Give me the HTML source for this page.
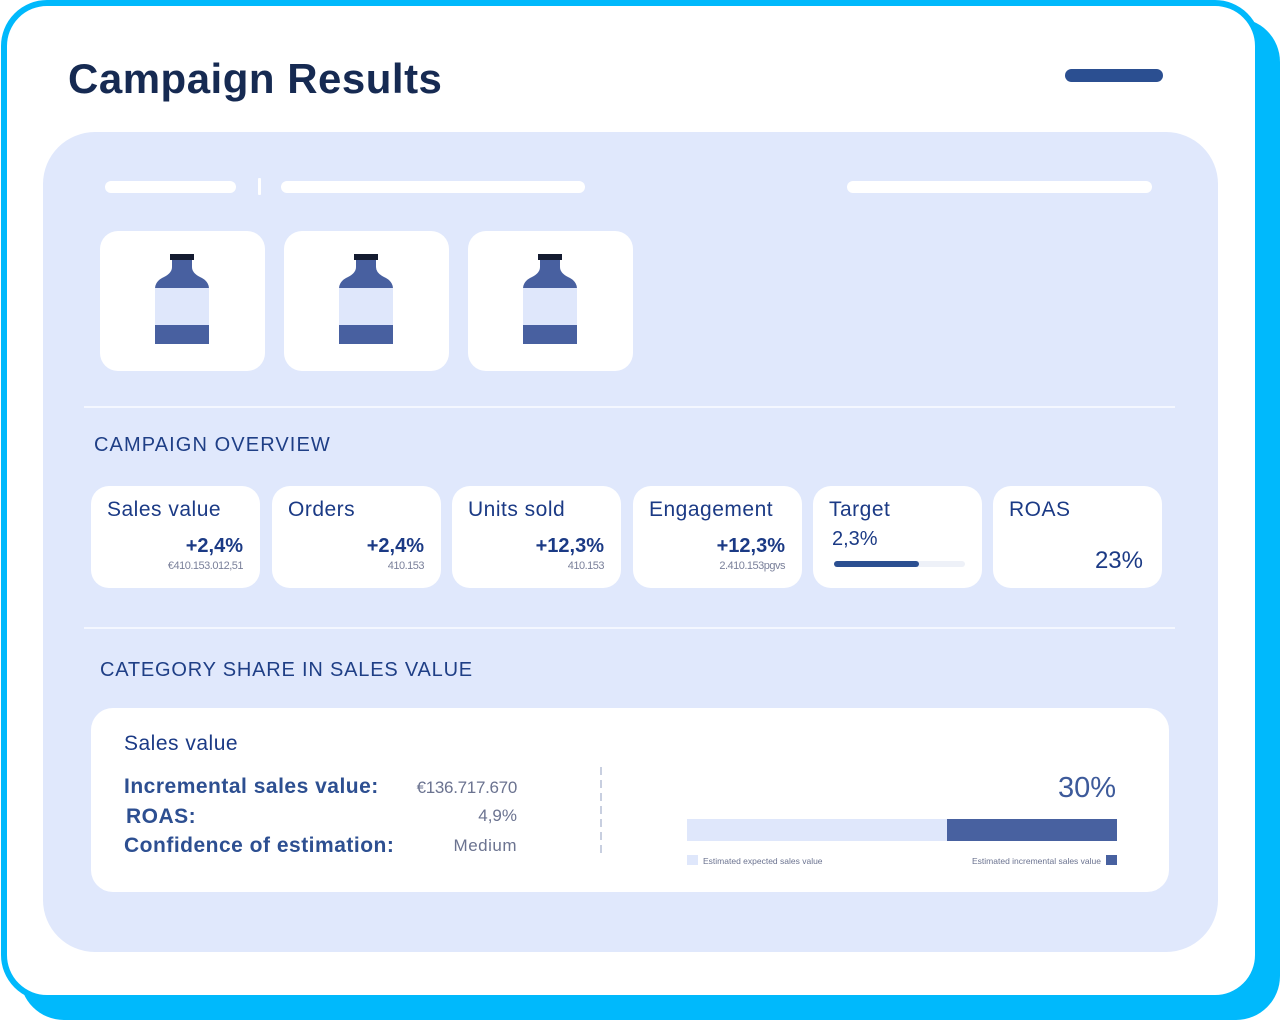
<!DOCTYPE html>
<html>
<head>
<meta charset="utf-8">
<style>
  html,body{margin:0;padding:0;}
  body{width:1280px;height:1020px;position:relative;overflow:hidden;background:#ffffff;font-family:"Liberation Sans",Arial,sans-serif;}
  .abs{position:absolute;}
  .shadow{left:20px;top:18px;width:1260px;height:1002px;border-radius:44px;background:#00b9fc;}
  .card{left:1px;top:0px;width:1248px;height:989px;border:6px solid #00b9fc;border-radius:46px;background:#fff;}
  .title{left:68px;top:54px;font-size:42px;font-weight:bold;color:#162a52;letter-spacing:0.5px;line-height:50px;white-space:nowrap;}
  .pill{left:1065px;top:69px;width:98px;height:13px;border-radius:7px;background:#2b4f91;}
  .panel{left:43px;top:132px;width:1175px;height:820px;border-radius:52px;background:#e0e8fc;}
  .wp{background:#fff;height:12px;border-radius:6px;top:181px;}
  .prod{top:231px;width:165px;height:140px;border-radius:18px;background:#fff;}
  .divider{left:84px;width:1091px;height:2px;background:#f4f7ff;}
  .sect{font-size:20px;color:#1f3f86;letter-spacing:1.1px;line-height:24px;white-space:nowrap;}
  .kpi{top:486px;width:169px;height:102px;border-radius:18px;background:#fff;}
  .kl{position:absolute;left:16px;top:12px;font-size:21px;color:#1b3a85;letter-spacing:0.5px;line-height:24px;white-space:nowrap;}
  .kv{position:absolute;right:17px;top:48px;font-size:20px;font-weight:bold;color:#1b3a85;line-height:24px;white-space:nowrap;}
  .ks{position:absolute;right:17px;top:74px;font-size:11px;color:#7a809a;line-height:12px;letter-spacing:-0.5px;white-space:nowrap;}
  .big{left:91px;top:708px;width:1078px;height:184px;border-radius:22px;background:#fff;}
  .rl{font-size:21px;font-weight:bold;color:#2d4f91;letter-spacing:0.5px;line-height:26px;white-space:nowrap;}
  .rv{font-size:17px;color:#6b7390;line-height:22px;white-space:nowrap;text-align:right;width:200px;}
  .leg{font-size:8.5px;color:#6b7390;line-height:10px;white-space:nowrap;}
</style>
</head>
<body>
  <div class="abs shadow"></div>
  <div class="abs card"></div>
  <div class="abs title">Campaign Results</div>
  <div class="abs pill"></div>

  <div class="abs panel"></div>

  <div class="abs wp" style="left:105px;width:131px;"></div>
  <div class="abs" style="left:258px;top:178px;width:3px;height:17px;background:#fff;border-radius:1px;"></div>
  <div class="abs wp" style="left:281px;width:304px;"></div>
  <div class="abs wp" style="left:847px;width:305px;"></div>

  <div class="abs prod" style="left:100px;">
    <svg width="165" height="140" viewBox="0 0 165 140">
      <path d="M72 28 H92 V36 Q92 42 100 46 Q109 50 109 58 V113 H55 V58 Q55 50 64 46 Q72 42 72 36 Z" fill="#4860a0"/>
      <rect x="55" y="57" width="54" height="37" fill="#dfe7fb"/>
      <rect x="70" y="23" width="24" height="6" fill="#141b30"/>
    </svg>
  </div>
  <div class="abs prod" style="left:284px;">
    <svg width="165" height="140" viewBox="0 0 165 140">
      <path d="M72 28 H92 V36 Q92 42 100 46 Q109 50 109 58 V113 H55 V58 Q55 50 64 46 Q72 42 72 36 Z" fill="#4860a0"/>
      <rect x="55" y="57" width="54" height="37" fill="#dfe7fb"/>
      <rect x="70" y="23" width="24" height="6" fill="#141b30"/>
    </svg>
  </div>
  <div class="abs prod" style="left:468px;">
    <svg width="165" height="140" viewBox="0 0 165 140">
      <path d="M72 28 H92 V36 Q92 42 100 46 Q109 50 109 58 V113 H55 V58 Q55 50 64 46 Q72 42 72 36 Z" fill="#4860a0"/>
      <rect x="55" y="57" width="54" height="37" fill="#dfe7fb"/>
      <rect x="70" y="23" width="24" height="6" fill="#141b30"/>
    </svg>
  </div>

  <div class="abs divider" style="top:406px;"></div>
  <div class="abs sect" style="left:94px;top:433px;">CAMPAIGN OVERVIEW</div>

  <div class="abs kpi" style="left:91px;">
    <div class="kl">Sales value</div>
    <div class="kv">+2,4%</div>
    <div class="ks">€410.153.012,51</div>
  </div>
  <div class="abs kpi" style="left:272px;">
    <div class="kl">Orders</div>
    <div class="kv">+2,4%</div>
    <div class="ks">410.153</div>
  </div>
  <div class="abs kpi" style="left:452px;">
    <div class="kl">Units sold</div>
    <div class="kv">+12,3%</div>
    <div class="ks">410.153</div>
  </div>
  <div class="abs kpi" style="left:633px;">
    <div class="kl">Engagement</div>
    <div class="kv">+12,3%</div>
    <div class="ks">2.410.153pgvs</div>
  </div>
  <div class="abs kpi" style="left:813px;">
    <div class="kl">Target</div>
    <div style="position:absolute;left:19px;top:41px;font-size:20px;color:#1b3a85;line-height:24px;">2,3%</div>
    <div style="position:absolute;left:21px;top:75px;width:131px;height:6px;border-radius:3px;background:#eef1f8;"></div>
    <div style="position:absolute;left:21px;top:75px;width:85px;height:6px;border-radius:3px;background:#2b4f91;"></div>
  </div>
  <div class="abs kpi" style="left:993px;">
    <div class="kl">ROAS</div>
    <div style="position:absolute;right:19px;top:61px;font-size:24px;color:#1b3a85;line-height:28px;">23%</div>
  </div>

  <div class="abs divider" style="top:627px;"></div>
  <div class="abs sect" style="left:100px;top:658px;letter-spacing:0.8px;">CATEGORY SHARE IN SALES VALUE</div>

  <div class="abs big"></div>
  <div class="abs" style="left:124px;top:732px;font-size:21px;color:#1b3a85;letter-spacing:0.5px;line-height:24px;">Sales value</div>

  <div class="abs rl" style="left:124px;top:774px;">Incremental sales value:</div>
  <div class="abs rl" style="left:126px;top:804px;">ROAS:</div>
  <div class="abs rl" style="left:124px;top:833px;">Confidence of estimation:</div>

  <div class="abs rv" style="left:317px;top:777px;letter-spacing:-0.3px;">€136.717.670</div>
  <div class="abs rv" style="left:317px;top:805px;">4,9%</div>
  <div class="abs rv" style="left:317px;top:835px;letter-spacing:0.5px;">Medium</div>

  <svg class="abs" style="left:598px;top:765px;" width="6" height="95">
    <line x1="3" y1="2" x2="3" y2="92" stroke="#c8cfe0" stroke-width="2" stroke-dasharray="8,5"/>
  </svg>

  <div class="abs" style="left:916px;top:771px;width:200px;text-align:right;font-size:29px;color:#3d5a9a;line-height:34px;">30%</div>
  <div class="abs" style="left:687px;top:819px;width:260px;height:22px;background:#dfe7fb;"></div>
  <div class="abs" style="left:947px;top:819px;width:170px;height:22px;background:#4861a0;"></div>

  <div class="abs" style="left:687px;top:855px;width:11px;height:10px;background:#dfe7fb;"></div>
  <div class="abs leg" style="left:703px;top:856px;">Estimated expected sales value</div>
  <div class="abs leg" style="left:901px;top:856px;width:200px;text-align:right;">Estimated incremental sales value</div>
  <div class="abs" style="left:1106px;top:855px;width:11px;height:10px;background:#4861a0;"></div>
</body>
</html>
